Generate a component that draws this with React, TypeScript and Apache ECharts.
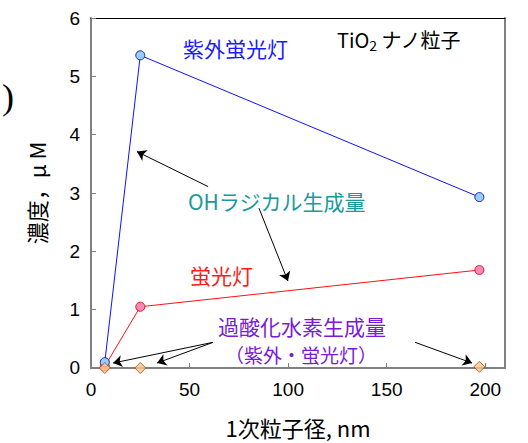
import React, { useEffect, useRef } from "react";
import * as echarts from "echarts";

// Primary particle size (nm) and measured concentrations (μM)
const sizes = [7, 25, 197];
const ohUv = [0.1, 5.36, 2.93];        // OH radical, UV fluorescent lamp
const ohFluor = [0.03, 1.05, 1.68];    // OH radical, fluorescent lamp
const h2o2 = [0, 0, 0.02];             // hydrogen peroxide (UV / fluorescent)

const xTicks = [0, 50, 100, 150, 200];
const yTicks = [0, 1, 2, 3, 4, 5, 6];

// Callout arrows, in data coordinates: [from, to]
const arrows: [number, number][][] = [
  [[59.4, 3.11], [23.3, 3.71]],
  [[85.2, 2.74], [99.9, 1.49]],
  [[61.9, 0.44], [11.2, 0.085]],
  [[61.9, 0.44], [33.5, 0.085]],
  [[164.4, 0.44], [193.3, 0.085]],
];

const JP = '"Noto Sans CJK JP", "Noto Sans", sans-serif';
const NUM = '"Liberation Sans", Arial, sans-serif';

export default function App() {
  const ref = useRef<HTMLDivElement>(null);

  useEffect(() => {
    if (!ref.current) return;
    const chart = echarts.init(ref.current, undefined, { renderer: "svg" });
    const pair = (ys: number[]) => sizes.map((x, i) => [x, ys[i]]);
    const axisGray = "#808080";
    const label = (text: string, x: number, y: number, fill: string, size = 21) => ({
      type: "text",
      x,
      y,
      style: { text, fontFamily: JP, fontSize: size, lineHeight: size, fill, verticalAlign: "middle" },
    });

    chart.setOption({
      animation: false,
      backgroundColor: "#ffffff",
      grid: { left: 91, top: 18, right: 23, bottom: 74, containLabel: false },
      xAxis: [
        {
          type: "value",
          min: 0,
          max: 210,
          interval: 50,
          position: "bottom",
          name: "1次粒子径, nm",
          nameLocation: "middle",
          nameGap: 48,
          nameTextStyle: { fontFamily: JP, fontSize: 22, color: "#000" },
          axisLine: { show: true, onZero: false, lineStyle: { color: axisGray, width: 2 } },
          axisTick: { show: true, inside: true, length: 5, lineStyle: { color: axisGray, width: 1 } },
          axisLabel: {
            margin: 12,
            fontFamily: NUM,
            fontSize: 19,
            color: "#000",
            formatter: (v: number) => (xTicks.includes(v) ? String(v) : ""),
          },
          splitLine: { show: false },
        },
        {
          type: "value",
          min: 0,
          max: 210,
          position: "top",
          axisLine: { show: true, onZero: false, lineStyle: { color: "#000", width: 1 } },
          axisTick: { show: false },
          axisLabel: { show: false },
          splitLine: { show: false },
        },
      ],
      yAxis: [
        {
          type: "value",
          min: 0,
          max: 6,
          interval: 1,
          position: "left",
          name: "濃度，μ M",
          nameLocation: "middle",
          nameGap: 44,
          nameRotate: 90,
          nameTextStyle: { fontFamily: JP, fontSize: 22, color: "#000" },
          axisLine: { show: true, onZero: false, lineStyle: { color: axisGray, width: 2 } },
          axisTick: { show: true, inside: true, length: 5, lineStyle: { color: axisGray, width: 1 } },
          axisLabel: {
            margin: 11,
            fontFamily: NUM,
            fontSize: 19,
            color: "#000",
            formatter: (v: number) => (yTicks.includes(v) ? String(v) : ""),
          },
          splitLine: { show: false },
        },
        {
          type: "value",
          min: 0,
          max: 6,
          position: "right",
          axisLine: { show: true, onZero: false, lineStyle: { color: axisGray, width: 2 } },
          axisTick: { show: false },
          axisLabel: { show: false },
          splitLine: { show: false },
        },
      ],
      series: [
        {
          type: "line",
          data: pair(ohUv),
          symbol: "circle",
          symbolSize: 9,
          lineStyle: { color: "#1010ff", width: 1 },
          itemStyle: { color: "#99ccff", borderColor: "#1a2a99", borderWidth: 1 },
          z: 3,
        },
        {
          type: "line",
          data: pair(ohFluor),
          symbol: "circle",
          symbolSize: 9,
          lineStyle: { color: "#ff1010", width: 1 },
          itemStyle: { color: "#ff88bb", borderColor: "#ee1111", borderWidth: 1 },
          z: 2,
        },
        {
          type: "scatter",
          data: pair(h2o2),
          symbol: "diamond",
          symbolSize: 11,
          itemStyle: { color: "#ffc58a", borderColor: "#a04a10", borderWidth: 1 },
          z: 4,
        },
        {
          type: "lines",
          coordinateSystem: "cartesian2d",
          data: arrows.map((c) => ({ coords: c })),
          symbol: ["none", "arrow"],
          symbolSize: [0, 9],
          lineStyle: { color: "#000", width: 1, opacity: 1, curveness: 0 },
          z: 5,
        },
      ],
      graphic: [
        {
          type: "text",
          x: 2,
          y: 97,
          style: {
            text: ")",
            fontFamily: '"Liberation Serif", "DejaVu Serif", serif',
            fontSize: 36,
            fill: "#000",
            verticalAlign: "middle",
          },
        },
        label("紫外蛍光灯", 183, 48, "#1a1aff"),
        {
          type: "text",
          x: 337,
          y: 39,
          style: {
            text: "TiO{sub|2} ナノ粒子",
            fontFamily: JP,
            fontSize: 20,
            fill: "#000",
            verticalAlign: "middle",
            rich: {
              sub: { fontSize: 14, fontFamily: JP, fill: "#000", padding: [12, 0, 0, 0] },
            },
          },
        },
        label("OHラジカル生成量", 188, 201, "#1a9a9a"),
        label("蛍光灯", 190, 275, "#ff1a1a"),
        label("過酸化水素生成量", 218, 326, "#7a1ad6"),
        label("（紫外・蛍光灯）", 225, 354, "#7a1ad6", 19),
      ],
    });
    return () => chart.dispose();
  }, []);

  return <div ref={ref} style={{ width: 528, height: 443, position: "absolute", left: 0, top: 0 }} />;
}
